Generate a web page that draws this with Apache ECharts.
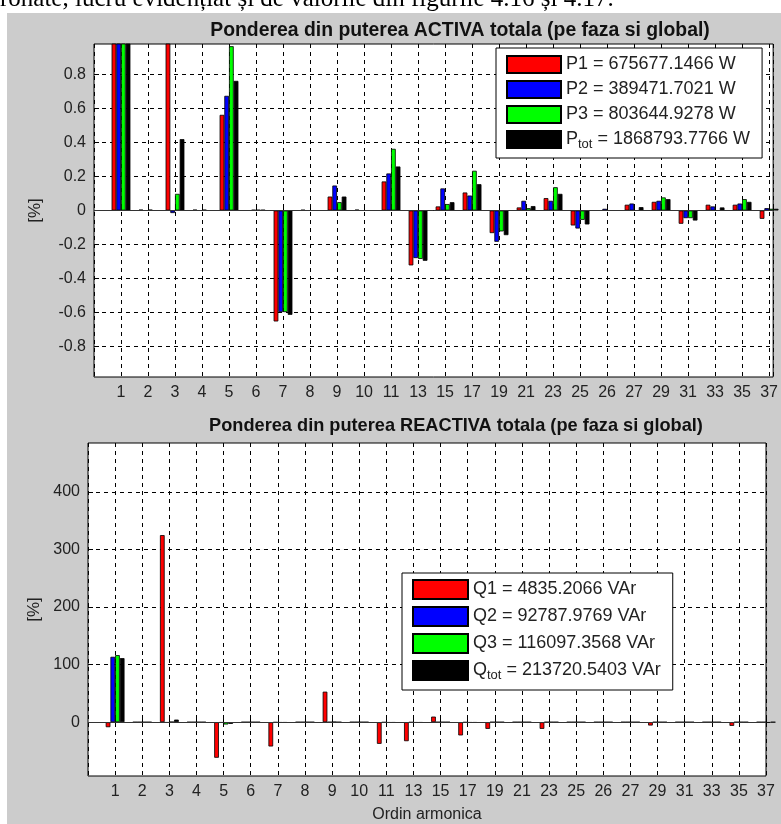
<!DOCTYPE html>
<html>
<head>
<meta charset="utf-8">
<script src="https://cdn.jsdelivr.net/npm/echarts@6/dist/echarts.min.js"></script>
<style>html,body{margin:0;padding:0;background:#fff;}#c{width:781px;height:824px;}</style>
</head>
<body>
<div id="c"></div>
<script>
// ---- data ----
const categories = ['1','2','3','4','5','6','7','8','9','10','11','13','15','17','19','21','23','25','26','27','29','31','33','35','37'];

// share of total ACTIVE power (per phase and global)
const P1   = [1.0, 0.005, 1.2, 0.005, 0.563, 0, -0.653, 0.004, 0.082, 0.005, 0.171, -0.323, 0.024, 0.106, -0.133, 0.018, 0.073, -0.088, 0, 0.034, 0.051, -0.078, 0.034, 0.034, -0.049];
const P2   = [1.0, 0, -0.015, 0, 0.675, 0.004, -0.598, 0, 0.147, 0, 0.218, -0.280, 0.130, 0.088, -0.184, 0.057, 0.057, -0.106, 0.010, 0.041, 0.057, -0.045, 0.024, 0.041, 0.014];
const P3   = [1.0, 0.005, 0.098, 0.005, 0.967, 0.004, -0.598, 0, 0.049, 0, 0.363, -0.285, 0.038, 0.234, -0.123, 0.014, 0.137, -0.055, 0, 0, 0.077, -0.045, 0, 0.067, 0.010];
const Ptot = [1.0, 0, 0.42, 0, 0.763, 0.004, -0.614, 0, 0.082, 0, 0.259, -0.296, 0.049, 0.155, -0.145, 0.026, 0.098, -0.082, 0, 0.020, 0.067, -0.059, 0.018, 0.051, 0.010];

// share of total REACTIVE power (per phase and global), %
const Q1   = [-8.7, 0, 325, 0, -61.8, 0, -42.2, 0, 53, 0, -37.6, -33, 9.7, -23, -11.6, 0, -11.6, 0, 0, 0, -5.8, 0, 0, -6.4, 0];
const Q2   = [113.6, 0, -1, 0, -1, 0, -0.5, 0, 0, 0, -0.5, -0.5, 0, -0.5, 0, 0, 0, 0, 0, 0, 0, 0, 0, 0, 0];
const Q3   = [116.5, 0, 0.5, 0, -4, 0, -1, 0, 0.5, 0, -1, -1, 0, -1, 0, 0, 0, 0, 0, 0, 0, 0, 0, 0, -1];
const Qtot = [111.3, 0, 4.5, 0, -3, 0, -1, 0, 0, 0, -1, -1, 0, -1, 0, 0, 0, 0, 0, 0, 0, 0, 0, 0, 0];

const yTicksP = [-0.8, -0.6, -0.4, -0.2, 0, 0.2, 0.4, 0.6, 0.8];
const yTicksQ = [0, 100, 200, 300, 400];

const legendTextP = {
  P1: 'P1 = 675677.1466 W',
  P2: 'P2 = 389471.7021 W',
  P3: 'P3 = 803644.9278 W',
  Ptot: '{m|P}{s|tot}{m| = 1868793.7766 W}'
};
const legendTextQ = {
  Q1: 'Q1 = 4835.2066 VAr',
  Q2: 'Q2 = 92787.9769 VAr',
  Q3: 'Q3 = 116097.3568 VAr',
  Qtot: '{m|Q}{s|tot}{m| = 213720.5403 VAr}'
};

const titleP = 'Ponderea din puterea ACTIVA totala (pe faza si global)';
const titleQ = 'Ponderea din puterea REACTIVA totala (pe faza si global)';
const docText = 'ronate, lucru evidențiat și de valorile din figurile 4.16 și 4.17.';

// ---- chart ----
const FONT = "'Liberation Sans', Arial, sans-serif";
const colors = ['#ff0000', '#0000ff', '#00ff00', '#000000'];
const toPts = arr => arr.map((v, i) => [i + 1, v]);
const catLabel = v => {
  const i = Math.round(v);
  return (Math.abs(v - i) < 1e-6 && i >= 1 && i <= categories.length) ? categories[i - 1] : '';
};

function xAxisCfg(gridIndex, max, withName) {
  const ax = {
    type: 'value', gridIndex, min: 0, max, interval: 1,
    axisLine: { show: false },
    axisTick: { show: true, inside: true, length: 5, lineStyle: { color: '#000' } },
    axisLabel: { formatter: catLabel, color: '#222', fontSize: 16, fontFamily: FONT, margin: 8, showMinLabel: false, showMaxLabel: true },
    splitLine: { show: true, lineStyle: { color: '#000', type: [4, 4], width: 1 } }
  };
  if (withName) {
    Object.assign(ax, { name: 'Ordin armonica', nameLocation: 'middle', nameGap: 31,
      nameTextStyle: { color: '#222', fontSize: 16, fontFamily: FONT } });
  }
  return ax;
}
function yAxisCfg(gridIndex, min, max, ticks, gap) {
  return {
    type: 'value', gridIndex, min, max,
    name: '[%]', nameLocation: 'middle', nameRotate: 90, nameGap: gap,
    nameTextStyle: { color: '#222', fontSize: 17, fontFamily: FONT },
    axisLine: { show: false },
    axisTick: { show: true, inside: true, length: 5, customValues: ticks, lineStyle: { color: '#000' } },
    axisLabel: { customValues: ticks, color: '#222', fontSize: 16, fontFamily: FONT, margin: 8,
      formatter: v => String(Math.round(v * 10) / 10) },
    splitLine: { show: true, lineStyle: { color: '#000', type: [4, 4], width: 1 } }
  };
}
function barSeries(name, arr, idx, k) {
  const s = {
    name, type: 'bar', xAxisIndex: idx, yAxisIndex: idx,
    data: toPts(arr), barWidth: 4.7, barGap: '0%',
    itemStyle: { color: colors[k], borderColor: '#000', borderWidth: 0.8 },
    emphasis: { disabled: true }, animation: false
  };
  if (k === 0) {
    s.markLine = { silent: true, symbol: 'none', label: { show: false },
      lineStyle: { color: '#333', type: 'solid', width: 1 },
      data: [{ yAxis: 0 }], animation: false };
  }
  return s;
}
const legendRich = { m: { fontSize: 18, fontFamily: FONT, color: '#222' },
                     s: { fontSize: 13, fontFamily: FONT, color: '#222', padding: [10, 0, 0, 0] } };

const chart = echarts.init(document.getElementById('c'), null, { renderer: 'canvas' });
chart.setOption({
  backgroundColor: '#cccccc',
  animation: false,
  graphic: [
    { type: 'rect', shape: { x: 0, y: 0, width: 781, height: 13 }, style: { fill: '#fff' }, silent: true },
    { type: 'rect', shape: { x: 0, y: 0, width: 7, height: 824 }, style: { fill: '#fff' }, silent: true },
    { type: 'text', left: 0, top: -13, silent: true,
      style: { text: docText, fill: '#000', font: "25px 'Liberation Serif', 'Times New Roman', serif" } }
  ],
  title: [
    { text: titleP, left: 455, top: 16, textAlign: 'center',
      textStyle: { fontSize: 19.4, fontWeight: 'bold', color: '#111', fontFamily: FONT } },
    { text: titleQ, left: 451, top: 412, textAlign: 'center',
      textStyle: { fontSize: 18.2, fontWeight: 'bold', color: '#111', fontFamily: FONT } }
  ],
  grid: [
    { left: 94, top: 44, width: 682, height: 333, show: true, backgroundColor: '#fff', borderColor: '#000', borderWidth: 1 },
    { left: 88, top: 443, width: 678, height: 334, show: true, backgroundColor: '#fff', borderColor: '#000', borderWidth: 1 }
  ],
  xAxis: [ xAxisCfg(0, 25.15, false), xAxisCfg(1, 25, true) ],
  yAxis: [ yAxisCfg(0, -0.98, 0.98, yTicksP, 50), yAxisCfg(1, -93.5, 485, yTicksQ, 45) ],
  legend: [
    { data: ['P1', 'P2', 'P3', 'Ptot'], orient: 'vertical', left: 496, top: 48,
      itemWidth: 54, itemHeight: 17, itemGap: 6, icon: 'rect', selectedMode: false,
      padding: [7, 12, 7, 10], backgroundColor: '#fff', borderColor: '#000', borderWidth: 1, borderRadius: 0,
      formatter: n => legendTextP[n],
      textStyle: { fontSize: 18, fontFamily: FONT, color: '#222', rich: legendRich } },
    { data: ['Q1', 'Q2', 'Q3', 'Qtot'], orient: 'vertical', left: 402, top: 573,
      itemWidth: 55, itemHeight: 19, itemGap: 6, icon: 'rect', selectedMode: false,
      padding: [6, 12, 8, 10], backgroundColor: '#fff', borderColor: '#000', borderWidth: 1, borderRadius: 0,
      formatter: n => legendTextQ[n],
      textStyle: { fontSize: 18, fontFamily: FONT, color: '#222', rich: legendRich } }
  ],
  series: [
    barSeries('P1', P1, 0, 0), barSeries('P2', P2, 0, 1), barSeries('P3', P3, 0, 2), barSeries('Ptot', Ptot, 0, 3),
    barSeries('Q1', Q1, 1, 0), barSeries('Q2', Q2, 1, 1), barSeries('Q3', Q3, 1, 2), barSeries('Qtot', Qtot, 1, 3)
  ]
});
</script>
</body>
</html>
